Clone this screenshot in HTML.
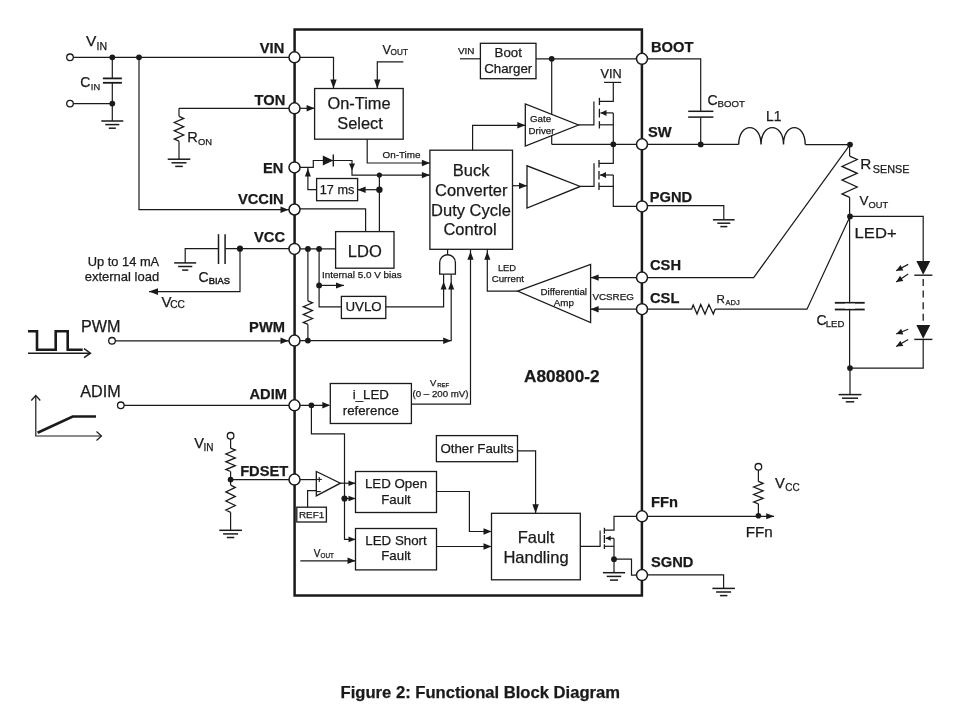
<!DOCTYPE html>
<html><head><meta charset="utf-8"><style>
html,body{margin:0;padding:0;background:#fff;}
svg{display:block;will-change:transform;}
text{font-family:"Liberation Sans",sans-serif;stroke:#1a1a1a;stroke-width:0.25px;}
</style></head><body>
<svg width="958" height="718" viewBox="0 0 958 718">
<rect width="958" height="718" fill="#fff"/>
<rect x="294.6" y="29.5" width="347.3" height="566" fill="none" stroke="#1a1a1a" stroke-width="2.5"/>
<polyline points="70,57.3 294,57.3" fill="none" stroke="#1a1a1a" stroke-width="1.2"/>
<circle cx="70" cy="57.3" r="3.3" fill="#fff" stroke="#1a1a1a" stroke-width="1.3"/>
<circle cx="112.3" cy="57.3" r="2.9" fill="#1a1a1a"/>
<circle cx="139" cy="57.3" r="2.9" fill="#1a1a1a"/>
<line x1="112.3" y1="57.3" x2="112.3" y2="78.4" stroke="#1a1a1a" stroke-width="1.2"/>
<line x1="112.3" y1="82.8" x2="112.3" y2="121" stroke="#1a1a1a" stroke-width="1.2"/>
<line x1="102.9" y1="78.4" x2="121.9" y2="78.4" stroke="#1a1a1a" stroke-width="1.8"/>
<line x1="102.9" y1="82.8" x2="121.9" y2="82.8" stroke="#1a1a1a" stroke-width="1.8"/>
<polyline points="70,103.6 112.3,103.6" fill="none" stroke="#1a1a1a" stroke-width="1.2"/>
<circle cx="70" cy="103.6" r="3.3" fill="#fff" stroke="#1a1a1a" stroke-width="1.3"/>
<circle cx="112.3" cy="103.6" r="2.9" fill="#1a1a1a"/>
<line x1="101.3" y1="121" x2="123.3" y2="121" stroke="#1a1a1a" stroke-width="1.5"/>
<line x1="105.3" y1="124.6" x2="119.3" y2="124.6" stroke="#1a1a1a" stroke-width="1.5"/>
<line x1="108.8" y1="128.2" x2="115.8" y2="128.2" stroke="#1a1a1a" stroke-width="1.5"/>
<text x="86" y="46" font-size="15.5" text-anchor="start" fill="#1a1a1a">V</text>
<text x="96.5" y="49.6" font-size="10.5" text-anchor="start" fill="#1a1a1a">IN</text>
<text x="80.3" y="86.9" font-size="14" text-anchor="start" fill="#1a1a1a">C</text>
<text x="90.8" y="89.5" font-size="9.3" text-anchor="start" fill="#1a1a1a">IN</text>
<polyline points="139,57.3 139,209.7 294,209.7" fill="none" stroke="#1a1a1a" stroke-width="1.2"/>
<polygon points="288.5,209.7 280.5,206.5 280.5,212.9" fill="#1a1a1a"/>
<polyline points="179,108.3 294,108.3" fill="none" stroke="#1a1a1a" stroke-width="1.2"/>
<polyline points="179,108.3 179,116.3" fill="none" stroke="#1a1a1a" stroke-width="1.2"/>
<polyline points="179,116.3 183.7,118.4 174.3,122.5 183.7,126.7 174.3,130.8 183.7,135 174.3,139.1 179,141.2" fill="none" stroke="#1a1a1a" stroke-width="1.3"/>
<line x1="179" y1="141.2" x2="179" y2="159.2" stroke="#1a1a1a" stroke-width="1.2"/>
<line x1="167.7" y1="159.2" x2="190.3" y2="159.2" stroke="#1a1a1a" stroke-width="1.5"/>
<line x1="171.5" y1="162.8" x2="186.5" y2="162.8" stroke="#1a1a1a" stroke-width="1.5"/>
<line x1="175.2" y1="166.4" x2="182.8" y2="166.4" stroke="#1a1a1a" stroke-width="1.5"/>
<text x="187.3" y="141.7" font-size="14.6" text-anchor="start" fill="#1a1a1a">R</text>
<text x="198" y="144.5" font-size="9.4" text-anchor="start" fill="#1a1a1a">ON</text>
<polyline points="185.2,262.9 185.2,248.7 218.5,248.7" fill="none" stroke="#1a1a1a" stroke-width="1.2"/>
<line x1="225.1" y1="248.7" x2="294" y2="248.7" stroke="#1a1a1a" stroke-width="1.2"/>
<line x1="218.5" y1="234.2" x2="218.5" y2="264" stroke="#1a1a1a" stroke-width="1.5"/>
<line x1="225.1" y1="234.2" x2="225.1" y2="264" stroke="#1a1a1a" stroke-width="1.5"/>
<circle cx="240" cy="248.7" r="3.1" fill="#1a1a1a"/>
<line x1="174.2" y1="262.9" x2="196.2" y2="262.9" stroke="#1a1a1a" stroke-width="1.5"/>
<line x1="178.1" y1="266.5" x2="192.3" y2="266.5" stroke="#1a1a1a" stroke-width="1.5"/>
<line x1="182.1" y1="270.1" x2="188.3" y2="270.1" stroke="#1a1a1a" stroke-width="1.5"/>
<polyline points="240,248.7 240,291.6 149,291.6" fill="none" stroke="#1a1a1a" stroke-width="1.2"/>
<polygon points="149,291.6 158,288.2 158,295" fill="#1a1a1a"/>
<text x="159.2" y="265.6" font-size="12.5" text-anchor="end" fill="#1a1a1a" textLength="71.5" lengthAdjust="spacingAndGlyphs">Up to 14 mA</text>
<text x="159.2" y="281" font-size="12.8" text-anchor="end" fill="#1a1a1a" textLength="74.5" lengthAdjust="spacingAndGlyphs">external load</text>
<text x="198.4" y="282" font-size="14" text-anchor="start" fill="#1a1a1a">C</text>
<text x="208.8" y="284.4" font-size="9.6" text-anchor="start" fill="#1a1a1a" textLength="21.2" lengthAdjust="spacingAndGlyphs" style="stroke-width:0.5px">BIAS</text>
<text x="161.6" y="306.6" font-size="15" text-anchor="start" fill="#1a1a1a">V</text>
<text x="170.2" y="308.4" font-size="10.2" text-anchor="start" fill="#1a1a1a">CC</text>
<polyline points="112,340.8 294,340.8" fill="none" stroke="#1a1a1a" stroke-width="1.2"/>
<circle cx="112" cy="340.8" r="3.3" fill="#fff" stroke="#1a1a1a" stroke-width="1.3"/>
<polygon points="288.5,340.8 280.5,337.6 280.5,344" fill="#1a1a1a"/>
<text x="81" y="331.6" font-size="16.2" text-anchor="start" fill="#1a1a1a">PWM</text>
<polyline points="28,331.3 37,331.3 37,349.7 55.7,349.7 55.7,331.3 67.7,331.3 67.7,349.7 82.7,349.7" fill="none" stroke="#1a1a1a" stroke-width="2.6"/>
<polyline points="28,353.2 90,353.2" fill="none" stroke="#1a1a1a" stroke-width="1.4"/>
<polyline points="84,348.7 90.5,353.2 84,357.7" fill="none" stroke="#1a1a1a" stroke-width="1.4"/>
<polyline points="120.8,405.3 294,405.3" fill="none" stroke="#1a1a1a" stroke-width="1.2"/>
<circle cx="120.8" cy="405.3" r="3.3" fill="#fff" stroke="#1a1a1a" stroke-width="1.3"/>
<text x="80.2" y="396.8" font-size="16.2" text-anchor="start" fill="#1a1a1a">ADIM</text>
<polyline points="35.8,396 35.8,436 101,436" fill="none" stroke="#1a1a1a" stroke-width="1.2"/>
<polyline points="31.3,400.5 35.8,395.5 40.3,400.5" fill="none" stroke="#1a1a1a" stroke-width="1.2"/>
<polyline points="96.5,431.5 101.5,436 96.5,440.5" fill="none" stroke="#1a1a1a" stroke-width="1.2"/>
<polyline points="37.6,432.8 72.7,416.5 96,416.5" fill="none" stroke="#1a1a1a" stroke-width="2.6"/>
<polyline points="230.6,439 230.6,448.2" fill="none" stroke="#1a1a1a" stroke-width="1.2"/>
<polyline points="230.6,448.2 235.3,450.1 225.9,454 235.3,457.9 225.9,461.8 235.3,465.7 225.9,469.6 230.6,471.5" fill="none" stroke="#1a1a1a" stroke-width="1.3"/>
<polyline points="230.6,471.5 230.6,485.1" fill="none" stroke="#1a1a1a" stroke-width="1.2"/>
<polyline points="230.6,485.1 235.3,487.4 225.9,491.9 235.3,496.4 225.9,501 235.3,505.5 225.9,510 230.6,512.3" fill="none" stroke="#1a1a1a" stroke-width="1.3"/>
<line x1="230.6" y1="512.3" x2="230.6" y2="530.3" stroke="#1a1a1a" stroke-width="1.2"/>
<circle cx="230.6" cy="435.8" r="3.3" fill="#fff" stroke="#1a1a1a" stroke-width="1.3"/>
<circle cx="230.6" cy="479.6" r="2.9" fill="#1a1a1a"/>
<line x1="230.6" y1="479.6" x2="294" y2="479.6" stroke="#1a1a1a" stroke-width="1.2"/>
<line x1="219.3" y1="530.3" x2="241.9" y2="530.3" stroke="#1a1a1a" stroke-width="1.5"/>
<line x1="223.1" y1="533.9" x2="238.1" y2="533.9" stroke="#1a1a1a" stroke-width="1.5"/>
<line x1="226.8" y1="537.5" x2="234.3" y2="537.5" stroke="#1a1a1a" stroke-width="1.5"/>
<text x="194.2" y="447.8" font-size="14.6" text-anchor="start" fill="#1a1a1a">V</text>
<text x="203.6" y="450.8" font-size="10" text-anchor="start" fill="#1a1a1a">IN</text>
<text x="284.3" y="52.5" font-size="14.7" font-weight="bold" text-anchor="end" fill="#1a1a1a">VIN</text>
<text x="285.3" y="104.7" font-size="14.7" font-weight="bold" text-anchor="end" fill="#1a1a1a">TON</text>
<text x="283.3" y="173.2" font-size="14.7" font-weight="bold" text-anchor="end" fill="#1a1a1a">EN</text>
<text x="283.6" y="203.7" font-size="14.7" font-weight="bold" text-anchor="end" fill="#1a1a1a">VCCIN</text>
<text x="285" y="241.5" font-size="14.7" font-weight="bold" text-anchor="end" fill="#1a1a1a">VCC</text>
<text x="285" y="331.6" font-size="14.7" font-weight="bold" text-anchor="end" fill="#1a1a1a">PWM</text>
<text x="287" y="399" font-size="14.7" font-weight="bold" text-anchor="end" fill="#1a1a1a">ADIM</text>
<text x="288.3" y="475.6" font-size="14.7" font-weight="bold" text-anchor="end" fill="#1a1a1a">FDSET</text>
<rect x="314.6" y="88.5" width="88.6" height="50.7" fill="none" stroke="#1a1a1a" stroke-width="1.3"/>
<polyline points="294,57.3 333.5,57.3 333.5,88.5" fill="none" stroke="#1a1a1a" stroke-width="1.2"/>
<polygon points="333.5,88.5 330.3,79.5 336.7,79.5" fill="#1a1a1a"/>
<polyline points="403.4,61.8 377.3,61.8 377.3,88.5" fill="none" stroke="#1a1a1a" stroke-width="1.2"/>
<polygon points="377.3,88.5 374.1,79.5 380.5,79.5" fill="#1a1a1a"/>
<text x="382.5" y="54.2" font-size="12.6" text-anchor="start" fill="#1a1a1a">V</text>
<text x="390.6" y="55.4" font-size="8.2" text-anchor="start" fill="#1a1a1a">OUT</text>
<polyline points="294,108.3 314.6,108.3" fill="none" stroke="#1a1a1a" stroke-width="1.2"/>
<polygon points="314.6,108.3 306.6,105.1 306.6,111.5" fill="#1a1a1a"/>
<text x="359" y="108.6" font-size="16.4" text-anchor="middle" fill="#1a1a1a">On-Time</text>
<text x="360" y="128.6" font-size="16.4" text-anchor="middle" fill="#1a1a1a">Select</text>
<polyline points="367.2,139.2 367.2,163 429.9,163" fill="none" stroke="#1a1a1a" stroke-width="1.2"/>
<polygon points="429.9,163 421.9,159.8 421.9,166.2" fill="#1a1a1a"/>
<text x="401.5" y="157.8" font-size="9.9" text-anchor="middle" fill="#1a1a1a">On-Time</text>
<polyline points="294,167.4 313.3,167.4 313.3,160.5 352,160.5 352,175.1 429.9,175.1" fill="none" stroke="#1a1a1a" stroke-width="1.2"/>
<polygon points="322.8,155.4 322.8,165.6 333.3,160.5" fill="#1a1a1a"/>
<line x1="333.3" y1="154.6" x2="333.3" y2="166.6" stroke="#1a1a1a" stroke-width="1.4"/>
<polygon points="352,170.5 349,163.5 355,163.5" fill="#1a1a1a"/>
<polygon points="429.9,175.1 421.9,171.9 421.9,178.3" fill="#1a1a1a"/>
<circle cx="379.4" cy="175.1" r="2.6" fill="#1a1a1a"/>
<circle cx="379.4" cy="189.7" r="3.2" fill="#1a1a1a"/>
<line x1="379.4" y1="175.1" x2="379.4" y2="231.6" stroke="#1a1a1a" stroke-width="1.2"/>
<rect x="316.6" y="178.5" width="41" height="22.2" fill="none" stroke="#1a1a1a" stroke-width="1.3"/>
<text x="337.1" y="194.1" font-size="12.7" text-anchor="middle" fill="#1a1a1a">17 ms</text>
<polyline points="379.4,189.7 357.6,189.7" fill="none" stroke="#1a1a1a" stroke-width="1.2"/>
<polygon points="357.6,189.7 365.6,186.5 365.6,192.9" fill="#1a1a1a"/>
<polyline points="316.6,189.7 307.9,189.7 307.9,167.4" fill="none" stroke="#1a1a1a" stroke-width="1.2"/>
<polygon points="307.9,168.5 304.9,176.5 310.9,176.5" fill="#1a1a1a"/>
<polyline points="294,208.8 365.6,208.8 365.6,231.6" fill="none" stroke="#1a1a1a" stroke-width="1.2"/>
<rect x="335.6" y="231.6" width="58.4" height="36.6" fill="none" stroke="#1a1a1a" stroke-width="1.3"/>
<text x="364.8" y="256.9" font-size="16.5" text-anchor="middle" fill="#1a1a1a">LDO</text>
<line x1="294" y1="248.9" x2="335.6" y2="248.9" stroke="#1a1a1a" stroke-width="1.2"/>
<circle cx="307.9" cy="248.9" r="2.9" fill="#1a1a1a"/>
<circle cx="319.1" cy="248.9" r="2.9" fill="#1a1a1a"/>
<text x="322" y="277.6" font-size="9.9" text-anchor="start" fill="#1a1a1a">Internal 5.0 V bias</text>
<polyline points="319.1,248.9 319.1,306.8 341.4,306.8" fill="none" stroke="#1a1a1a" stroke-width="1.2"/>
<circle cx="319.1" cy="285.4" r="2.9" fill="#1a1a1a"/>
<polyline points="319.1,285.4 344,285.4" fill="none" stroke="#1a1a1a" stroke-width="1.2"/>
<polygon points="344,285.4 336,282.4 336,288.4" fill="#1a1a1a"/>
<rect x="341.4" y="296.4" width="44.4" height="22.1" fill="none" stroke="#1a1a1a" stroke-width="1.3"/>
<text x="363.6" y="310.7" font-size="13.3" text-anchor="middle" fill="#1a1a1a">UVLO</text>
<polyline points="385.8,306.9 443.6,306.9 443.6,274.2" fill="none" stroke="#1a1a1a" stroke-width="1.2"/>
<line x1="307.9" y1="248.9" x2="307.9" y2="300.8" stroke="#1a1a1a" stroke-width="1.2"/>
<polyline points="307.9,300.8 312.5,302.8 303.3,306.7 312.5,310.6 303.3,314.6 312.5,318.5 303.3,322.4 307.9,324.4" fill="none" stroke="#1a1a1a" stroke-width="1.3"/>
<polyline points="307.9,324.4 307.9,340.6" fill="none" stroke="#1a1a1a" stroke-width="1.2"/>
<circle cx="307.9" cy="340.6" r="2.9" fill="#1a1a1a"/>
<polyline points="294,340.7 451.2,340.7 451.2,274.2" fill="none" stroke="#1a1a1a" stroke-width="1.2"/>
<polygon points="451.2,340.7 443.2,337.5 443.2,343.9" fill="#1a1a1a"/>
<polygon points="443.6,281.5 440.6,289.5 446.6,289.5" fill="#1a1a1a"/>
<polygon points="451.2,281.5 448.2,289.5 454.2,289.5" fill="#1a1a1a"/>
<path d="M439.7,274.2 L439.7,262.6 A7.85,7.85 0 0 1 455.4,262.6 L455.4,274.2 Z" fill="#fff" stroke="#1a1a1a" stroke-width="1.3"/>
<line x1="447.6" y1="249.6" x2="447.6" y2="254.8" stroke="#1a1a1a" stroke-width="1.2"/>
<rect x="429.9" y="150.2" width="82.6" height="99.1" fill="none" stroke="#1a1a1a" stroke-width="1.3"/>
<text x="471.2" y="175.9" font-size="16.5" text-anchor="middle" fill="#1a1a1a">Buck</text>
<text x="471.2" y="195.8" font-size="16.5" text-anchor="middle" fill="#1a1a1a">Converter</text>
<text x="471" y="215.9" font-size="16.5" text-anchor="middle" fill="#1a1a1a">Duty Cycle</text>
<text x="470" y="234.8" font-size="16.5" text-anchor="middle" fill="#1a1a1a">Control</text>
<polyline points="411.4,404.1 470.5,404.1 470.5,249.3" fill="none" stroke="#1a1a1a" stroke-width="1.2"/>
<polygon points="470.5,251.6 467.4,259.8 473.6,259.8" fill="#1a1a1a"/>
<text x="429.9" y="386.2" font-size="9.4" text-anchor="start" fill="#1a1a1a">V</text>
<text x="437.2" y="386.7" font-size="6" text-anchor="start" fill="#1a1a1a">REF</text>
<text x="440.5" y="397" font-size="9.4" text-anchor="middle" fill="#1a1a1a" textLength="56" lengthAdjust="spacingAndGlyphs">(0 – 200 mV)</text>
<polyline points="517.6,291.1 487.3,291.1 487.3,249.3" fill="none" stroke="#1a1a1a" stroke-width="1.2"/>
<polygon points="487.3,251.6 484.2,259.8 490.4,259.8" fill="#1a1a1a"/>
<text x="507" y="270.8" font-size="9.4" text-anchor="middle" fill="#1a1a1a">LED</text>
<text x="507.9" y="282" font-size="9.7" text-anchor="middle" fill="#1a1a1a">Current</text>
<polygon points="517.6,291.1 590.6,264.4 590.6,322.6" fill="none" stroke="#1a1a1a" stroke-width="1.3" stroke-linejoin="miter"/>
<text x="563.8" y="294.9" font-size="9.7" text-anchor="middle" fill="#1a1a1a" textLength="46.5" lengthAdjust="spacingAndGlyphs">Differential</text>
<text x="563.8" y="305.6" font-size="9.8" text-anchor="middle" fill="#1a1a1a">Amp</text>
<polyline points="642,277.6 590.6,277.6" fill="none" stroke="#1a1a1a" stroke-width="1.2"/>
<polygon points="590.6,277.6 598.6,274.4 598.6,280.8" fill="#1a1a1a"/>
<polyline points="642,309.2 590.6,309.2" fill="none" stroke="#1a1a1a" stroke-width="1.2"/>
<polygon points="590.6,309.2 598.6,306 598.6,312.4" fill="#1a1a1a"/>
<text x="592.4" y="300.1" font-size="9.6" text-anchor="start" fill="#1a1a1a" textLength="41.5" lengthAdjust="spacingAndGlyphs">VCSREG</text>
<text x="524" y="381.8" font-size="16.6" font-weight="bold" text-anchor="start" fill="#1a1a1a" textLength="75.5" lengthAdjust="spacingAndGlyphs">A80800-2</text>
<rect x="480.4" y="43.3" width="55.6" height="35.4" fill="none" stroke="#1a1a1a" stroke-width="1.3"/>
<text x="508.2" y="57.1" font-size="13.3" text-anchor="middle" fill="#1a1a1a">Boot</text>
<text x="508.2" y="72.6" font-size="13.3" text-anchor="middle" fill="#1a1a1a">Charger</text>
<polyline points="460,58.8 480.4,58.8" fill="none" stroke="#1a1a1a" stroke-width="1.2"/>
<text x="458" y="53.8" font-size="9.2" text-anchor="start" fill="#1a1a1a" textLength="16.5" lengthAdjust="spacingAndGlyphs">VIN</text>
<polyline points="536,58.8 642,58.8" fill="none" stroke="#1a1a1a" stroke-width="1.2"/>
<circle cx="551.7" cy="58.8" r="2.9" fill="#1a1a1a"/>
<line x1="551.7" y1="58.8" x2="551.7" y2="144.3" stroke="#1a1a1a" stroke-width="1.2"/>
<polygon points="525.3,104 525.3,146 578.5,125" fill="#fff" stroke="#1a1a1a" stroke-width="1.3" stroke-linejoin="miter"/>
<text x="540.6" y="121.6" font-size="9.7" text-anchor="middle" fill="#1a1a1a">Gate</text>
<text x="541.5" y="133.5" font-size="9.7" text-anchor="middle" fill="#1a1a1a">Driver</text>
<polyline points="472.6,150.2 472.6,125.3 525.3,125.3" fill="none" stroke="#1a1a1a" stroke-width="1.2"/>
<polygon points="525.3,125.3 517.3,122.1 517.3,128.5" fill="#1a1a1a"/>
<polyline points="578.5,124.8 593.9,124.8 593.9,101.4" fill="none" stroke="#1a1a1a" stroke-width="1.2"/>
<line x1="599.4" y1="97.8" x2="599.4" y2="105.1" stroke="#1a1a1a" stroke-width="1.3"/>
<line x1="599.4" y1="108.8" x2="599.4" y2="117.5" stroke="#1a1a1a" stroke-width="1.3"/>
<line x1="599.4" y1="121.2" x2="599.4" y2="128.5" stroke="#1a1a1a" stroke-width="1.3"/>
<polyline points="599.4,101.4 613.3,101.4 613.3,82.4" fill="none" stroke="#1a1a1a" stroke-width="1.2"/>
<line x1="604.1" y1="82.4" x2="621.2" y2="82.4" stroke="#1a1a1a" stroke-width="1.2"/>
<text x="611.2" y="77.7" font-size="12.7" text-anchor="middle" fill="#1a1a1a">VIN</text>
<polyline points="600.5,112.9 613.3,112.9" fill="none" stroke="#1a1a1a" stroke-width="1.2"/>
<polygon points="600.5,112.9 606.5,109.9 606.5,115.9" fill="#1a1a1a"/>
<polyline points="599.4,124.8 613.3,124.8" fill="none" stroke="#1a1a1a" stroke-width="1.2"/>
<line x1="613.3" y1="112.9" x2="613.3" y2="144.3" stroke="#1a1a1a" stroke-width="1.2"/>
<polyline points="551.7,144.3 642,144.3" fill="none" stroke="#1a1a1a" stroke-width="1.2"/>
<circle cx="613.3" cy="144.3" r="2.9" fill="#1a1a1a"/>
<polygon points="527,165.8 527,208 580.3,186.4" fill="none" stroke="#1a1a1a" stroke-width="1.3" stroke-linejoin="miter"/>
<polyline points="512.5,185.7 527,185.7" fill="none" stroke="#1a1a1a" stroke-width="1.2"/>
<polygon points="527,185.7 519,182.5 519,188.9" fill="#1a1a1a"/>
<polyline points="580.3,186.4 594,186.4 594,163.3" fill="none" stroke="#1a1a1a" stroke-width="1.2"/>
<line x1="599" y1="160" x2="599" y2="167.5" stroke="#1a1a1a" stroke-width="1.3"/>
<line x1="599" y1="171" x2="599" y2="179.5" stroke="#1a1a1a" stroke-width="1.3"/>
<line x1="599" y1="182.5" x2="599" y2="190" stroke="#1a1a1a" stroke-width="1.3"/>
<polyline points="599,163.3 613.3,163.3 613.3,144.3" fill="none" stroke="#1a1a1a" stroke-width="1.2"/>
<polyline points="600,175 613.3,175" fill="none" stroke="#1a1a1a" stroke-width="1.2"/>
<polygon points="600,175 606,172 606,178" fill="#1a1a1a"/>
<polyline points="599,186.4 613.3,186.4" fill="none" stroke="#1a1a1a" stroke-width="1.2"/>
<polyline points="613.3,175 613.3,206.4 642,206.4" fill="none" stroke="#1a1a1a" stroke-width="1.2"/>
<text x="651" y="52.4" font-size="14.7" font-weight="bold" text-anchor="start" fill="#1a1a1a">BOOT</text>
<text x="648" y="137" font-size="14.7" font-weight="bold" text-anchor="start" fill="#1a1a1a">SW</text>
<text x="649.8" y="202.3" font-size="14.7" font-weight="bold" text-anchor="start" fill="#1a1a1a">PGND</text>
<text x="650" y="270" font-size="14.7" font-weight="bold" text-anchor="start" fill="#1a1a1a">CSH</text>
<text x="650" y="303" font-size="14.7" font-weight="bold" text-anchor="start" fill="#1a1a1a">CSL</text>
<text x="651" y="507.2" font-size="14.7" font-weight="bold" text-anchor="start" fill="#1a1a1a">FFn</text>
<text x="651" y="566.6" font-size="14.7" font-weight="bold" text-anchor="start" fill="#1a1a1a">SGND</text>
<polyline points="294,405.3 328.7,405.3" fill="none" stroke="#1a1a1a" stroke-width="1.2"/>
<polygon points="330.3,405.3 322.3,402.1 322.3,408.5" fill="#1a1a1a"/>
<circle cx="311.4" cy="405.3" r="2.9" fill="#1a1a1a"/>
<rect x="330.3" y="383.5" width="81.1" height="40" fill="none" stroke="#1a1a1a" stroke-width="1.3"/>
<text x="370.8" y="398.8" font-size="13.3" text-anchor="middle" fill="#1a1a1a">i_LED</text>
<text x="370.8" y="414.6" font-size="13.3" text-anchor="middle" fill="#1a1a1a">reference</text>
<polyline points="311.4,405.3 311.4,433.9 344.5,433.9 344.5,539.4 355.5,539.4" fill="none" stroke="#1a1a1a" stroke-width="1.2"/>
<polygon points="355.5,539.4 348.5,536.6 348.5,542.2" fill="#1a1a1a"/>
<circle cx="344.5" cy="498.5" r="3.1" fill="#1a1a1a"/>
<polyline points="344.5,498.5 355.5,498.5" fill="none" stroke="#1a1a1a" stroke-width="1.2"/>
<polygon points="355.5,498.5 348.5,495.7 348.5,501.3" fill="#1a1a1a"/>
<polyline points="294,479.6 316.3,479.6" fill="none" stroke="#1a1a1a" stroke-width="1.2"/>
<polygon points="316.3,471.5 316.3,495.9 340.4,483.2" fill="#fff" stroke="#1a1a1a" stroke-width="1.3" stroke-linejoin="miter"/>
<line x1="316.8" y1="479.4" x2="321.8" y2="479.4" stroke="#1a1a1a" stroke-width="1.1"/>
<line x1="319.3" y1="476.9" x2="319.3" y2="481.9" stroke="#1a1a1a" stroke-width="1.1"/>
<line x1="316.8" y1="491.6" x2="320.8" y2="491.6" stroke="#1a1a1a" stroke-width="1.1"/>
<polyline points="340.4,483.2 355.5,483.2" fill="none" stroke="#1a1a1a" stroke-width="1.2"/>
<polygon points="355.5,483.2 348.5,480.4 348.5,486" fill="#1a1a1a"/>
<polyline points="307.6,507.2 307.6,490.7 316.3,490.7" fill="none" stroke="#1a1a1a" stroke-width="1.2"/>
<rect x="296.8" y="507.2" width="29.6" height="14.8" fill="none" stroke="#1a1a1a" stroke-width="1.3"/>
<text x="311.6" y="518" font-size="9.9" text-anchor="middle" fill="#1a1a1a">REF1</text>
<rect x="355.5" y="471.5" width="81" height="41" fill="none" stroke="#1a1a1a" stroke-width="1.3"/>
<text x="396" y="488" font-size="13.3" text-anchor="middle" fill="#1a1a1a">LED Open</text>
<text x="396" y="503.7" font-size="13.3" text-anchor="middle" fill="#1a1a1a">Fault</text>
<rect x="355.5" y="528.5" width="81" height="41.4" fill="none" stroke="#1a1a1a" stroke-width="1.3"/>
<text x="396" y="544.7" font-size="13.3" text-anchor="middle" fill="#1a1a1a">LED Short</text>
<text x="396" y="560.3" font-size="13.3" text-anchor="middle" fill="#1a1a1a">Fault</text>
<polyline points="300.3,560.8 355.5,560.8" fill="none" stroke="#1a1a1a" stroke-width="1.2"/>
<polygon points="355.5,560.8 347.5,557.6 347.5,564" fill="#1a1a1a"/>
<text x="313.8" y="556.8" font-size="10" text-anchor="start" fill="#1a1a1a">V</text>
<text x="320.5" y="557.7" font-size="6.3" text-anchor="start" fill="#1a1a1a">OUT</text>
<rect x="436.4" y="435.6" width="81.1" height="26.1" fill="none" stroke="#1a1a1a" stroke-width="1.3"/>
<text x="477" y="453" font-size="13.3" text-anchor="middle" fill="#1a1a1a">Other Faults</text>
<rect x="491.5" y="513.3" width="88.8" height="66.5" fill="none" stroke="#1a1a1a" stroke-width="1.3"/>
<text x="536" y="542.8" font-size="16.5" text-anchor="middle" fill="#1a1a1a">Fault</text>
<text x="536" y="562.9" font-size="16.5" text-anchor="middle" fill="#1a1a1a">Handling</text>
<polyline points="436.5,491.5 469.4,491.5 469.4,531.5 491.5,531.5" fill="none" stroke="#1a1a1a" stroke-width="1.2"/>
<polygon points="491.5,531.5 483.5,528.3 483.5,534.7" fill="#1a1a1a"/>
<polyline points="436.5,546.5 491.5,546.5" fill="none" stroke="#1a1a1a" stroke-width="1.2"/>
<polygon points="491.5,546.5 483.5,543.3 483.5,549.7" fill="#1a1a1a"/>
<polyline points="517.5,450.8 535.6,450.8 535.6,513.3" fill="none" stroke="#1a1a1a" stroke-width="1.2"/>
<polygon points="535.6,513.3 532.4,504.3 538.8,504.3" fill="#1a1a1a"/>
<polyline points="580.3,546.3 600.1,546.3 600.1,530.4" fill="none" stroke="#1a1a1a" stroke-width="1.2"/>
<line x1="604.4" y1="527.8" x2="604.4" y2="533.7" stroke="#1a1a1a" stroke-width="1.3"/>
<line x1="604.4" y1="535" x2="604.4" y2="543" stroke="#1a1a1a" stroke-width="1.3"/>
<line x1="604.4" y1="544.3" x2="604.4" y2="549" stroke="#1a1a1a" stroke-width="1.3"/>
<polyline points="604.4,530.1 614,530.1 614,516.3 642,516.3" fill="none" stroke="#1a1a1a" stroke-width="1.2"/>
<polyline points="605.7,538.3 614,538.3" fill="none" stroke="#1a1a1a" stroke-width="1.2"/>
<polygon points="605.7,538.3 610.7,535.8 610.7,540.8" fill="#1a1a1a"/>
<polyline points="604.4,546.3 614,546.3" fill="none" stroke="#1a1a1a" stroke-width="1.2"/>
<line x1="614" y1="538.3" x2="614" y2="572.7" stroke="#1a1a1a" stroke-width="1.2"/>
<circle cx="614" cy="559.2" r="2.9" fill="#1a1a1a"/>
<polyline points="614,559.2 631.5,559.2 631.5,575.1 642,575.1" fill="none" stroke="#1a1a1a" stroke-width="1.2"/>
<line x1="602.9" y1="572.7" x2="625.1" y2="572.7" stroke="#1a1a1a" stroke-width="1.5"/>
<line x1="606.7" y1="576.4" x2="621.3" y2="576.4" stroke="#1a1a1a" stroke-width="1.5"/>
<line x1="610" y1="580.1" x2="618" y2="580.1" stroke="#1a1a1a" stroke-width="1.5"/>
<polyline points="642,58.8 700.7,58.8 700.7,111.2" fill="none" stroke="#1a1a1a" stroke-width="1.2"/>
<line x1="700.7" y1="117.1" x2="700.7" y2="144.6" stroke="#1a1a1a" stroke-width="1.2"/>
<line x1="688.2" y1="111.3" x2="713.4" y2="111.3" stroke="#1a1a1a" stroke-width="1.5"/>
<line x1="688.2" y1="117.1" x2="713.4" y2="117.1" stroke="#1a1a1a" stroke-width="1.5"/>
<polyline points="642,144.4 738.7,144.4" fill="none" stroke="#1a1a1a" stroke-width="1.2"/>
<circle cx="700.7" cy="144.4" r="2.9" fill="#1a1a1a"/>
<text x="707.6" y="105" font-size="14" text-anchor="start" fill="#1a1a1a">C</text>
<text x="717.6" y="106.6" font-size="9.6" text-anchor="start" fill="#1a1a1a">BOOT</text>
<path d="M738.7,144.6 C738.7,122 761,122 761,144.6 C761,122 783.5,122 783.5,144.6 C783.5,122 805.2,122 805.2,144.6" fill="none" stroke="#1a1a1a" stroke-width="1.4"/>
<polyline points="805.2,144.6 850,144.6" fill="none" stroke="#1a1a1a" stroke-width="1.2"/>
<circle cx="850" cy="144.6" r="2.9" fill="#1a1a1a"/>
<text x="766.1" y="121.2" font-size="13.8" text-anchor="start" fill="#1a1a1a">L1</text>
<polyline points="849.6,156.1 857.2,159.5 842,166.4 857.2,173.3 842,180.1 857.2,187 842,193.9 849.6,197.3" fill="none" stroke="#1a1a1a" stroke-width="1.3"/>
<line x1="849.6" y1="144.6" x2="849.6" y2="156.1" stroke="#1a1a1a" stroke-width="1.2"/>
<line x1="849.6" y1="197.3" x2="849.6" y2="368.1" stroke="#1a1a1a" stroke-width="1.2"/>
<circle cx="850" cy="216.4" r="2.9" fill="#1a1a1a"/>
<text x="860.2" y="168.6" font-size="15.3" text-anchor="start" fill="#1a1a1a">R</text>
<text x="872.8" y="172.9" font-size="10.8" text-anchor="start" fill="#1a1a1a">SENSE</text>
<text x="859.6" y="205.2" font-size="13.4" text-anchor="start" fill="#1a1a1a">V</text>
<text x="868.5" y="207.7" font-size="9.3" text-anchor="start" fill="#1a1a1a">OUT</text>
<text x="854.6" y="238.4" font-size="14.8" text-anchor="start" fill="#1a1a1a" textLength="42" lengthAdjust="spacingAndGlyphs">LED+</text>
<polyline points="850,144.6 753.7,277.6 642,277.6" fill="none" stroke="#1a1a1a" stroke-width="1.2"/>
<polyline points="850,216.4 807,309.2 715,309.2" fill="none" stroke="#1a1a1a" stroke-width="1.2"/>
<polyline points="642,309.2 691.6,309.2 693.2,305 697,314 700.7,304.5 705,314 708.9,304.5 713.3,314 715.1,309.2" fill="none" stroke="#1a1a1a" stroke-width="1.3"/>
<text x="716.5" y="303" font-size="11.6" text-anchor="start" fill="#1a1a1a">R</text>
<text x="725.6" y="304.5" font-size="7.5" text-anchor="start" fill="#1a1a1a">ADJ</text>
<polyline points="642,205.6 723.8,205.6 723.8,219.8" fill="none" stroke="#1a1a1a" stroke-width="1.2"/>
<line x1="712.9" y1="219.8" x2="734.6" y2="219.8" stroke="#1a1a1a" stroke-width="1.5"/>
<line x1="717.3" y1="223.2" x2="730.3" y2="223.2" stroke="#1a1a1a" stroke-width="1.5"/>
<line x1="720.3" y1="226.6" x2="727.3" y2="226.6" stroke="#1a1a1a" stroke-width="1.5"/>
<polyline points="850,216.4 923.2,216.4 923.2,261" fill="none" stroke="#1a1a1a" stroke-width="1.2"/>
<polygon points="916.3,261 930.3,261 923.2,274.7" fill="#1a1a1a"/>
<line x1="914.3" y1="275.2" x2="932.4" y2="275.2" stroke="#1a1a1a" stroke-width="1.4"/>
<line x1="923.2" y1="279" x2="923.2" y2="324.9" stroke="#1a1a1a" stroke-width="1.3" stroke-dasharray="7,4.6"/>
<polygon points="916.3,324.9 930.3,324.9 923.2,338.8" fill="#1a1a1a"/>
<line x1="914.3" y1="339.4" x2="932.4" y2="339.4" stroke="#1a1a1a" stroke-width="1.4"/>
<polyline points="923.2,339.4 923.2,368.1 850,368.1" fill="none" stroke="#1a1a1a" stroke-width="1.2"/>
<circle cx="850" cy="368.1" r="2.9" fill="#1a1a1a"/>
<line x1="850" y1="368.1" x2="850" y2="394.6" stroke="#1a1a1a" stroke-width="1.2"/>
<line x1="838.6" y1="394.6" x2="861.4" y2="394.6" stroke="#1a1a1a" stroke-width="1.5"/>
<line x1="842" y1="398.2" x2="858" y2="398.2" stroke="#1a1a1a" stroke-width="1.5"/>
<line x1="845.8" y1="401.8" x2="854.2" y2="401.8" stroke="#1a1a1a" stroke-width="1.5"/>
<line x1="834.8" y1="302.8" x2="864.7" y2="302.8" stroke="#1a1a1a" stroke-width="1.8"/>
<line x1="834.8" y1="309.5" x2="864.7" y2="309.5" stroke="#1a1a1a" stroke-width="1.8"/>
<rect x="845" y="303.6" width="10" height="5.1" fill="#fff"/>
<text x="816.6" y="324.9" font-size="14" text-anchor="start" fill="#1a1a1a">C</text>
<text x="825.7" y="326.5" font-size="9.6" text-anchor="start" fill="#1a1a1a">LED</text>
<line x1="908.2" y1="264.4" x2="896.2" y2="270.8" stroke="#1a1a1a" stroke-width="1.2"/>
<polygon points="896.2,270.8 900.5,265.1 903.3,270.4" fill="#1a1a1a"/>
<line x1="908.2" y1="274.1" x2="896.2" y2="281.9" stroke="#1a1a1a" stroke-width="1.2"/>
<polygon points="896.2,281.9 900,275.8 903.3,280.9" fill="#1a1a1a"/>
<line x1="908.2" y1="329.3" x2="896.2" y2="334" stroke="#1a1a1a" stroke-width="1.2"/>
<polygon points="896.2,334 901.2,328.8 903.3,334.4" fill="#1a1a1a"/>
<line x1="908.2" y1="339.6" x2="896.2" y2="346.6" stroke="#1a1a1a" stroke-width="1.2"/>
<polygon points="896.2,346.6 900.3,340.7 903.3,345.9" fill="#1a1a1a"/>
<polyline points="642,516.3 774,516.3" fill="none" stroke="#1a1a1a" stroke-width="1.2"/>
<polygon points="774.2,516.3 766.2,513.3 766.2,519.3" fill="#1a1a1a"/>
<circle cx="758.4" cy="515.7" r="2.8" fill="#1a1a1a"/>
<line x1="758.4" y1="470" x2="758.4" y2="481.4" stroke="#1a1a1a" stroke-width="1.2"/>
<polyline points="758.4,481.4 763.1,483.3 753.7,487 763.1,490.8 753.7,494.5 763.1,498.3 753.7,502 758.4,503.9" fill="none" stroke="#1a1a1a" stroke-width="1.3"/>
<line x1="758.4" y1="503.9" x2="758.4" y2="516" stroke="#1a1a1a" stroke-width="1.2"/>
<circle cx="758.4" cy="466.8" r="3.3" fill="#fff" stroke="#1a1a1a" stroke-width="1.3"/>
<text x="775" y="488.3" font-size="14.8" text-anchor="start" fill="#1a1a1a">V</text>
<text x="785.2" y="491" font-size="10" text-anchor="start" fill="#1a1a1a">CC</text>
<text x="745.8" y="537" font-size="13.8" text-anchor="start" fill="#1a1a1a" textLength="27" lengthAdjust="spacingAndGlyphs">FFn</text>
<polyline points="642,574.8 723.6,574.8 723.6,588.4" fill="none" stroke="#1a1a1a" stroke-width="1.2"/>
<line x1="712.4" y1="588.4" x2="734.9" y2="588.4" stroke="#1a1a1a" stroke-width="1.5"/>
<line x1="716.1" y1="592" x2="731.1" y2="592" stroke="#1a1a1a" stroke-width="1.5"/>
<line x1="719.9" y1="595.6" x2="727.4" y2="595.6" stroke="#1a1a1a" stroke-width="1.5"/>
<text x="340.6" y="697.7" font-size="16.6" font-weight="bold" text-anchor="start" fill="#1a1a1a">Figure 2: Functional Block Diagram</text>
<circle cx="642" cy="58.8" r="5.5" fill="#fff" stroke="#1a1a1a" stroke-width="1.5"/>
<circle cx="642" cy="144.3" r="5.5" fill="#fff" stroke="#1a1a1a" stroke-width="1.5"/>
<circle cx="642" cy="206.4" r="5.5" fill="#fff" stroke="#1a1a1a" stroke-width="1.5"/>
<circle cx="642" cy="277.6" r="5.5" fill="#fff" stroke="#1a1a1a" stroke-width="1.5"/>
<circle cx="642" cy="309.2" r="5.5" fill="#fff" stroke="#1a1a1a" stroke-width="1.5"/>
<circle cx="642" cy="516.3" r="5.5" fill="#fff" stroke="#1a1a1a" stroke-width="1.5"/>
<circle cx="642" cy="575.1" r="5.5" fill="#fff" stroke="#1a1a1a" stroke-width="1.5"/>
<circle cx="294.5" cy="57.3" r="5.5" fill="#fff" stroke="#1a1a1a" stroke-width="1.5"/>
<circle cx="294.5" cy="108.3" r="5.5" fill="#fff" stroke="#1a1a1a" stroke-width="1.5"/>
<circle cx="294.5" cy="167.4" r="5.5" fill="#fff" stroke="#1a1a1a" stroke-width="1.5"/>
<circle cx="294.5" cy="209.5" r="5.5" fill="#fff" stroke="#1a1a1a" stroke-width="1.5"/>
<circle cx="294.5" cy="248.9" r="5.5" fill="#fff" stroke="#1a1a1a" stroke-width="1.5"/>
<circle cx="294.5" cy="340.6" r="5.5" fill="#fff" stroke="#1a1a1a" stroke-width="1.5"/>
<circle cx="294.5" cy="405.3" r="5.5" fill="#fff" stroke="#1a1a1a" stroke-width="1.5"/>
<circle cx="294.5" cy="479.6" r="5.5" fill="#fff" stroke="#1a1a1a" stroke-width="1.5"/>
</svg>
</body></html>
